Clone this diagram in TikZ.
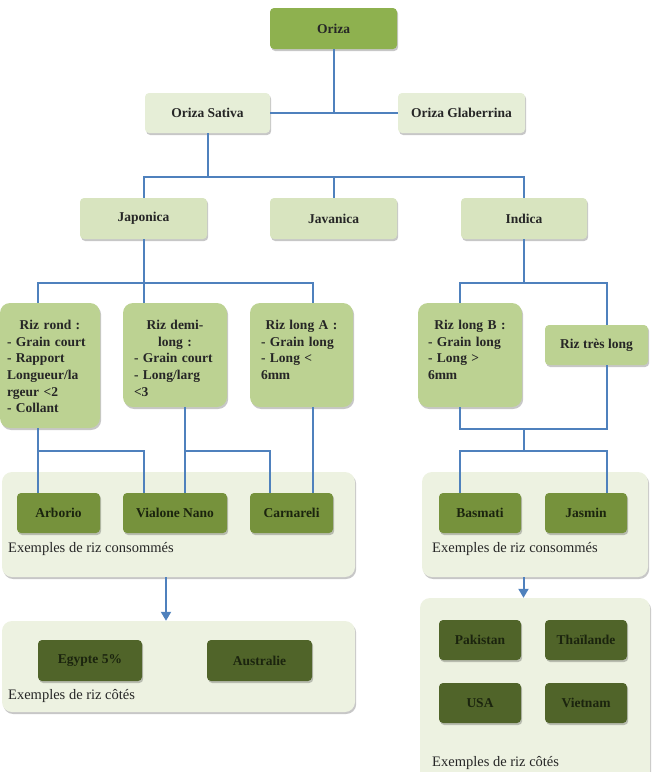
\documentclass[tikz,border=0pt]{standalone}
\usepackage{fontspec}
\setmainfont{Liberation Serif}
\usetikzlibrary{shadows,arrows.meta}
\definecolor{ozfill}{HTML}{8EB14F}
\definecolor{lightA}{HTML}{E6EED7}
\definecolor{lightB}{HTML}{D8E4BF}
\definecolor{rizfill}{HTML}{BCD292}
\definecolor{panelfill}{HTML}{EDF2E1}
\definecolor{midgreen}{HTML}{76923C}
\definecolor{darkgreen}{HTML}{506429}
\definecolor{linkblue}{HTML}{4F81BD}
\definecolor{txtdark}{HTML}{262626}
\definecolor{txtdeep}{HTML}{1B240E}
\tikzset{
  shad/.style={drop shadow={shadow xshift=1.2pt, shadow yshift=-2pt, fill=black, opacity=0.22}},
  basebox/.style={shad, rectangle, rounded corners=4pt, inner sep=0pt, text=txtdark,
     font=\fontsize{13.5}{16.7}\selectfont\bfseries},
  topbox/.style={basebox, fill=ozfill},
  lboxA/.style={basebox, fill=lightA},
  lboxB/.style={basebox, fill=lightB},
  rizbox/.style={basebox, fill=rizfill, rounded corners=10pt},
  riztext/.style={inner sep=0pt, anchor=north, text=txtdark, font=\fontsize{13.5}{16.7}\selectfont\bfseries},
  panel/.style={shad, rectangle, rounded corners=10pt, fill=panelfill, inner sep=0pt},
  exbox/.style={basebox, fill=midgreen, text=txtdeep},
  cotebox/.style={basebox, fill=darkgreen, text=txtdeep},
  plabel/.style={inner sep=0pt, anchor=west, text=txtdark, font=\fontsize{14.5}{17}\selectfont},
  link/.style={draw=linkblue, line width=2pt},
  arrowlink/.style={link, -{Triangle[width=10pt,length=9pt]}}
}
\begin{document}
\begin{tikzpicture}[x=1pt,y=-1pt]
\useasboundingbox (0,0) rectangle (655,772);
% panels
\node[panel, minimum width=353pt, minimum height=105pt] (cons1) at (178.5,524.5) {};
\node[panel, minimum width=226pt, minimum height=105pt] (cons2) at (535,524.5) {};
\node[panel, minimum width=353pt, minimum height=91pt] (cote1) at (178.5,666.5) {};
\node[panel, minimum width=230pt, minimum height=184pt] (cote2) at (535,690) {};
% top levels
\node[topbox, minimum width=127pt, minimum height=41pt] (oriza) at (333.5,28.5) {Oriza};
\node[lboxA, minimum width=125pt, minimum height=40pt] (sativa) at (207.5,113) {Oriza Sativa};
\node[lboxA, minimum width=127pt, minimum height=40pt] (glab) at (461.5,113) {Oriza Glaberrina};
\node[lboxB, minimum width=127pt, minimum height=41pt] (japonica) at (143.5,218.5) {Japonica};
\node[lboxB, minimum width=127pt, minimum height=41pt] (javanica) at (333.5,218.5) {Javanica};
\node[lboxB, minimum width=126pt, minimum height=41pt] (indica) at (524,218.5) {Indica};
% rice types
\node[rizbox, minimum width=100pt, minimum height=125pt] (rond) at (50,365.5) {};
\node[riztext, text width=86pt] (rondtxt) at ([yshift=-17pt]rond.north)
  {\centering Riz rond :\par\raggedright - Grain court\par - Rapport\par Longueur/la\par rgeur <2\par - Collant\par};
\node[rizbox, minimum width=104pt, minimum height=104pt] (demi) at (175,355) {};
\node[riztext, text width=82pt] (demitxt) at ([yshift=-17pt]demi.north)
  {\centering Riz demi-\par long :\par\raggedright - Grain court\par - Long/larg\par <3\par};
\node[rizbox, minimum width=103pt, minimum height=104pt] (longA) at (301.5,355) {};
\node[riztext, text width=81pt] (longAtxt) at ([yshift=-17pt]longA.north)
  {\centering Riz long A :\par\raggedright - Grain long\par - Long <\par 6mm\par};
\node[rizbox, minimum width=104pt, minimum height=104pt] (longB) at (470,355) {};
\node[riztext, text width=84pt] (longBtxt) at ([yshift=-17pt]longB.north)
  {\centering Riz long B :\par\raggedright - Grain long\par - Long >\par 6mm\par};
\node[rizbox, rounded corners=4pt, minimum width=103pt, minimum height=40pt] (tres) at (596.5,345) {Riz très long};
% consumed examples
\node[exbox, minimum width=83pt, minimum height=40pt] (arborio) at (58.5,513) {Arborio};
\node[exbox, minimum width=104pt, minimum height=40pt] (vialone) at (175,513) {Vialone Nano};
\node[exbox, minimum width=83pt, minimum height=40pt] (carnareli) at (291.5,513) {Carnareli};
\node[plabel] (lab1) at (8,549) {Exemples de riz consommés};
\node[exbox, minimum width=82pt, minimum height=40pt] (basmati) at (480,513) {Basmati};
\node[exbox, minimum width=82pt, minimum height=40pt] (jasmin) at (586,513) {Jasmin};
\node[plabel] (lab2) at (432,549) {Exemples de riz consommés};
% quoted examples
\node[cotebox, minimum width=104pt, minimum height=41pt] (egypte) at (90,660.5) {Egypte 5\%};
\node[cotebox, minimum width=105pt, minimum height=41pt] (australie) at (259.5,660.5) {Australie};
\node[plabel] (lab3) at (8,696) {Exemples de riz côtés};
\node[cotebox, minimum width=82pt, minimum height=40pt] (pakistan) at (480,640) {Pakistan};
\node[cotebox, minimum width=82pt, minimum height=40pt] (thai) at (586,640) {Thaïlande};
\node[cotebox, minimum width=82pt, minimum height=40pt] (usa) at (480,703) {USA};
\node[cotebox, minimum width=82pt, minimum height=40pt] (vietnam) at (586,703) {Vietnam};
\node[plabel] (lab4) at (432,763) {Exemples de riz côtés};
% helper coordinates
\coordinate (ylev1) at (0,177);
\coordinate (ylev2) at (0,283);
\coordinate (ylev3) at (0,451);
\coordinate (ylev4) at (0,429);
\coordinate (xa) at (38,0);
\coordinate (xc) at (185,0);
\coordinate (xd) at (270,0);
\coordinate (xe) at (313,0);
\coordinate (xf) at (460,0);
\coordinate (xg) at (607,0);
\coordinate (xh) at (523.5,0);
\coordinate (xarr) at (166,0);
% connectors
\draw[link] (oriza.south) -- (oriza.south |- sativa.east);
\draw[link] (sativa.east) -- (glab.west);
\draw[link] (sativa.south) -- (sativa.south |- ylev1);
\draw[link] (japonica.north) -- (japonica.north |- ylev1) -- (indica.north |- ylev1) -- (indica.north);
\draw[link] (javanica.north) -- (javanica.north |- ylev1);
\draw[link] (japonica.south) -- (demi.north -| japonica.south);
\draw[link] (rond.north -| xa) -- (xa |- ylev2) -- (xe |- ylev2) -- (longA.north -| xe);
\draw[link] (indica.south) -- (indica.south |- ylev2);
\draw[link] (longB.north -| xf) -- (xf |- ylev2) -- (xg |- ylev2) -- (tres.north -| xg);
% to consumed
\draw[link] (rond.south -| xa) -- (arborio.north -| xa);
\draw[link] (xa |- ylev3) -| (vialone.north -| japonica.south);
\draw[link] (demi.south -| xc) -- (vialone.north -| xc);
\draw[link] (xc |- ylev3) -| (carnareli.north -| xd);
\draw[link] (longA.south -| xe) -- (carnareli.north -| xe);
\draw[link] (longB.south -| xf) -- (xf |- ylev4) -- (xg |- ylev4) -- (tres.south -| xg);
\draw[link] (xh |- ylev4) -- (xh |- ylev3);
\draw[link] (basmati.north -| xf) -- (xf |- ylev3) -- (xg |- ylev3) -- (jasmin.north -| xg);
% arrows
\draw[arrowlink] (cons1.south -| xarr) -- (cote1.north -| xarr);
\draw[arrowlink] (cons2.south -| xh) -- (cote2.north -| xh);
\end{tikzpicture}
\end{document}
